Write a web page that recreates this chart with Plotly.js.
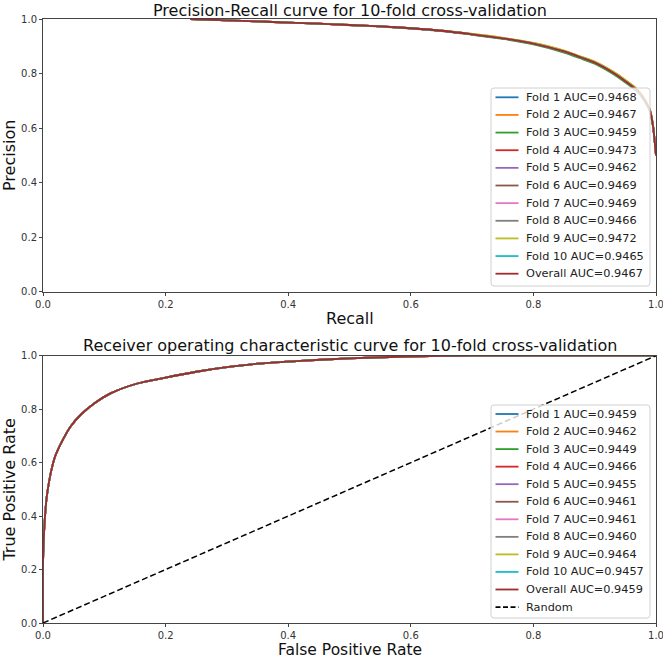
<!DOCTYPE html>
<html>
<head>
<meta charset="utf-8">
<script src="https://cdn.plot.ly/plotly-3.0.1.min.js"></script>
<style>html,body{margin:0;padding:0;background:#fff;}#chart{width:663px;height:660px;}</style>
</head>
<body>
<div id="chart"></div>
<script>
// ---------- data ----------
const foldNames = ["Fold 1","Fold 2","Fold 3","Fold 4","Fold 5","Fold 6","Fold 7","Fold 8","Fold 9","Fold 10","Overall"];
const prAUC  = ["0.9468","0.9467","0.9459","0.9473","0.9462","0.9469","0.9469","0.9466","0.9472","0.9465","0.9467"];
const rocAUC = ["0.9459","0.9462","0.9449","0.9466","0.9455","0.9461","0.9461","0.9460","0.9464","0.9457","0.9459"];
const colors = ["#1f77b4","#ff7f0e","#2ca02c","#d62728","#9467bd","#8c564b","#e377c2","#7f7f7f","#bcbd22","#17becf","#a52a2a"];

// Precision-Recall curve (all folds nearly overlap)
const recall       = [0.24, 0.30, 0.35, 0.40, 0.45, 0.50, 0.55, 0.60, 0.65, 0.70, 0.75, 0.80, 0.85, 0.88, 0.90, 0.93, 0.95, 0.97, 0.98, 0.99, 0.995, 1.00];
const precision    = [1.000,0.995,0.991,0.987,0.983,0.978,0.973,0.966,0.957,0.944,0.929,0.910,0.881,0.857,0.840,0.803,0.772,0.737,0.708,0.665,0.610,0.500];
const precisionLo  = [1.000,0.995,0.991,0.987,0.983,0.977,0.972,0.965,0.956,0.942,0.927,0.907,0.877,0.853,0.836,0.798,0.767,0.732,0.703,0.660,0.606,0.500];
const precisionHi  = [1.000,0.995,0.991,0.987,0.983,0.978,0.973,0.966,0.958,0.945,0.931,0.912,0.884,0.860,0.844,0.807,0.776,0.741,0.712,0.669,0.614,0.500];

// ROC curve (all folds nearly overlap)
const fpr = [0, 0,    0.001,0.003,0.006,0.010,0.015,0.020,0.030,0.045,0.062,0.084,0.111,0.154,0.200,0.250,0.300,0.350,0.420,0.500,0.580,0.650,0.700,0.800,1.000];
const tpr = [0, 0.22, 0.30, 0.39, 0.47, 0.53, 0.585,0.625,0.675,0.735,0.780,0.822,0.860,0.896,0.918,0.940,0.957,0.970,0.981,0.990,0.996,0.999,1.000,1.000,1.000];
const randomX = [0, 1];
const randomY = [0, 1];
const randomName = "Random";

// ---------- traces ----------
const traces = [];
foldNames.forEach((name, i) => {
  const p = (i === 2) ? precisionLo : (i === 8 || i === 1) ? precisionHi : precision;
  traces.push({x: recall, y: p, xaxis: "x", yaxis: "y", mode: "lines", showlegend: false,
    name: name + " AUC=" + prAUC[i], line: {color: colors[i], width: 1.8, shape: "spline", smoothing: 0.7}});
});
foldNames.forEach((name, i) => {
  traces.push({x: fpr, y: tpr, xaxis: "x2", yaxis: "y2", mode: "lines", showlegend: false,
    name: name + " AUC=" + rocAUC[i], line: {color: colors[i], width: 1.8, shape: "spline", smoothing: 0.7}});
});
traces.push({x: randomX, y: randomY, xaxis: "x2", yaxis: "y2", mode: "lines", showlegend: false,
  name: randomName, line: {color: "#000", width: 1.5, dash: "6px,3px"}});

// ---------- layout ----------
const font = "DejaVu Sans, sans-serif";
const M = {l: 43, r: 7, t: 19, b: 37};
const W = 663, H = 660;
const PW = W - M.l - M.r, PH = H - M.t - M.b;
const px2x = px => (px - M.l) / PW;
const px2y = py => (H - M.b - py) / PH;

const axisCommon = {
  range: [0, 1], showgrid: false, zeroline: false,
  showline: true, linecolor: "#444", linewidth: 1, mirror: true,
  ticks: "outside", ticklen: 3, tickcolor: "#444", tickwidth: 1,
  tickvals: [0, 0.2, 0.4, 0.6, 0.8, 1.0],
  ticktext: ["0.0","0.2","0.4","0.6","0.8","1.0"],
  tickfont: {family: font, size: 10, color: "#333"},
  ticklabeloverflow: "allow",
  fixedrange: true
};

const shapes = [];
const annotations = [];

function roundedBox(b, r) {
  const x0 = px2x(b.left), x1 = px2x(b.right), y0 = px2y(b.bottom), y1 = px2y(b.top);
  const rx = r / PW, ry = r / PH;
  return `M ${x0+rx},${y1} L ${x1-rx},${y1} Q ${x1},${y1} ${x1},${y1-ry} L ${x1},${y0+ry} Q ${x1},${y0} ${x1-rx},${y0} ` +
         `L ${x0+rx},${y0} Q ${x0},${y0} ${x0},${y0+ry} L ${x0},${y1-ry} Q ${x0},${y1} ${x0+rx},${y1} Z`;
}

function buildLegend(box, entries) {
  shapes.push({type: "path", xref: "paper", yref: "paper", path: roundedBox(box, 3),
    fillcolor: "rgba(255,255,255,0.8)", line: {color: "#d0d0d0", width: 1}, layer: "above"});
  entries.forEach((e, i) => {
    const cy = box.first + i * box.step;
    shapes.push({type: "line", xref: "paper", yref: "paper",
      x0: px2x(box.left + 4.5), x1: px2x(box.left + 27.5), y0: px2y(cy), y1: px2y(cy),
      line: {color: e.color, width: 1.8, dash: e.dash || "solid"}, layer: "above"});
    annotations.push({text: e.label, xref: "paper", yref: "paper", x: px2x(box.left + 34), y: px2y(cy),
      xanchor: "left", yanchor: "middle", showarrow: false, borderpad: 0,
      font: {family: font, size: 11.3, color: "#222"}});
  });
}

buildLegend({left: 491, right: 650, top: 88, bottom: 286, first: 97.3, step: 17.64},
  foldNames.map((n, i) => ({label: n + " AUC=" + prAUC[i], color: colors[i]})));
buildLegend({left: 491, right: 650, top: 405, bottom: 618, first: 414, step: 17.55},
  foldNames.map((n, i) => ({label: n + " AUC=" + rocAUC[i], color: colors[i]}))
    .concat([{label: randomName, color: "#000", dash: "5px,2.5px"}]));

// titles
annotations.push(
  {text: "Precision-Recall curve for 10-fold cross-validation", xref: "paper", yref: "paper",
   x: 0.5, y: px2y(0), xanchor: "center", yanchor: "top", showarrow: false, borderpad: 0,
   font: {family: font, size: 16, color: "#111"}},
  {text: "Receiver operating characteristic curve for 10-fold cross-validation", xref: "paper", yref: "paper",
   x: 0.5, y: px2y(345), xanchor: "center", yanchor: "middle", showarrow: false, borderpad: 0,
   font: {family: font, size: 16, color: "#111"}},
  {text: "Recall", xref: "paper", yref: "paper", x: 0.5, y: px2y(318), xanchor: "center", yanchor: "middle",
   showarrow: false, borderpad: 0, font: {family: font, size: 16, color: "#111"}},
  {text: "False Positive Rate", xref: "paper", yref: "paper", x: 0.5, y: px2y(660), xanchor: "center", yanchor: "bottom",
   showarrow: false, borderpad: 0, font: {family: font, size: 15.5, color: "#111"}}
);

const layout = {
  width: W, height: H, margin: M,
  paper_bgcolor: "#fff", plot_bgcolor: "#fff",
  showlegend: false,
  xaxis: Object.assign({}, axisCommon, {domain: [0, 1], anchor: "y"}),
  yaxis: Object.assign({}, axisCommon, {domain: [px2y(291.7), 1], anchor: "x",
    title: {text: "Precision", font: {family: font, size: 16, color: "#111"}, standoff: 6}}),
  xaxis2: Object.assign({}, axisCommon, {domain: [0, 1], anchor: "y2"}),
  yaxis2: Object.assign({}, axisCommon, {domain: [0, px2y(355.7)], anchor: "x2",
    title: {text: "True Positive Rate", font: {family: font, size: 16, color: "#111"}, standoff: 6}}),
  shapes: shapes,
  annotations: annotations
};

Plotly.newPlot("chart", traces, layout, {displayModeBar: false, staticPlot: true});
</script>
</body>
</html>
